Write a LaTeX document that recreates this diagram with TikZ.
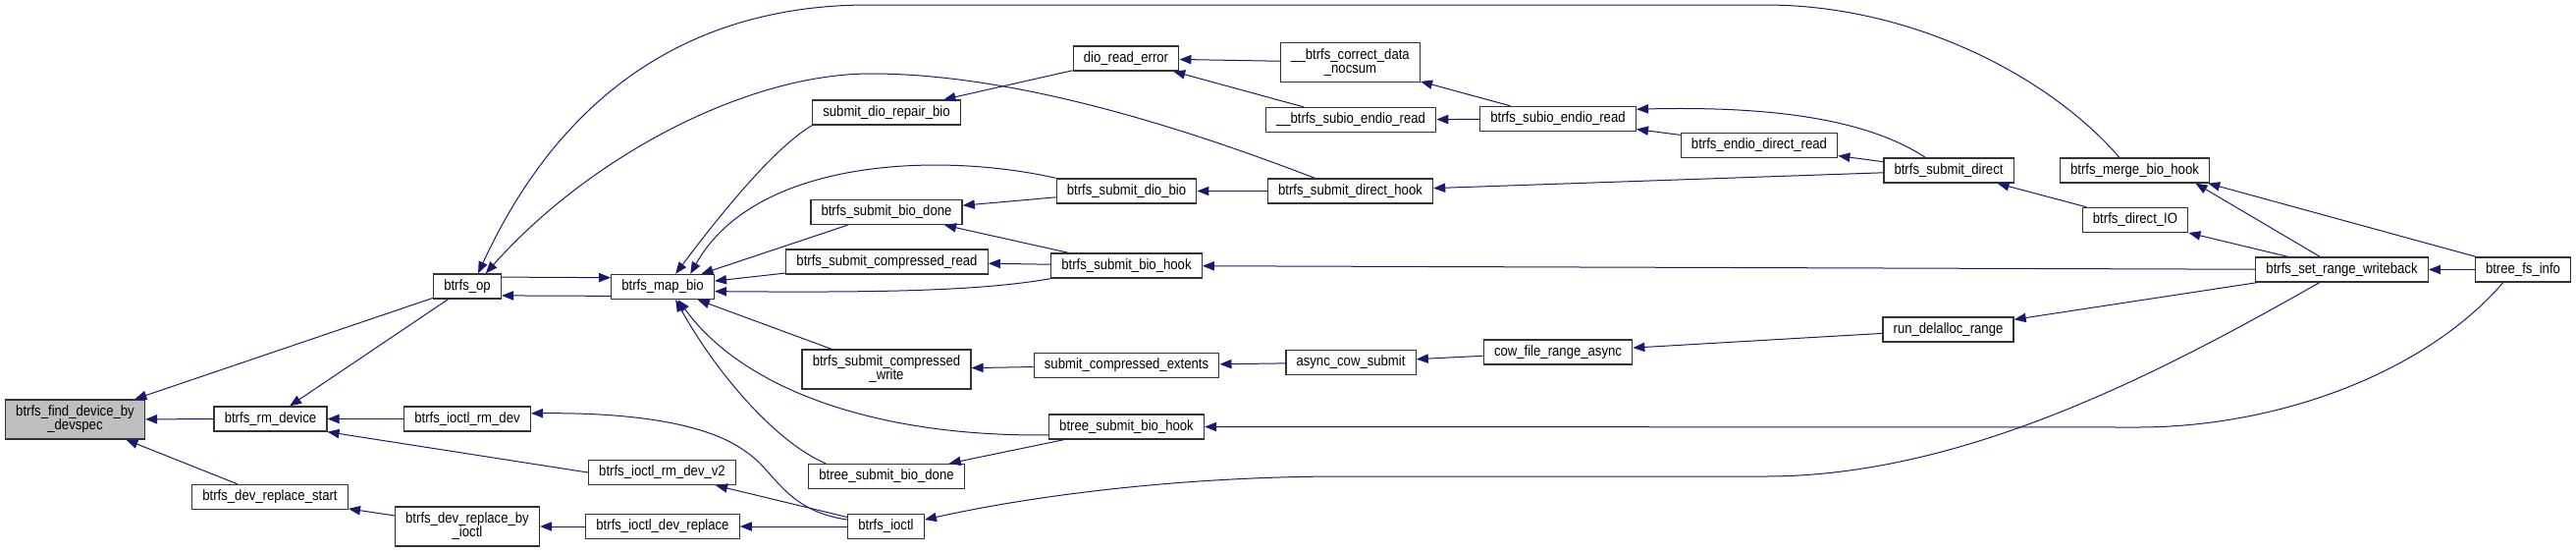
\documentclass[tikz,border=0pt]{standalone}
\usepackage{xcolor}
\usepackage{fontspec}
\newfontfamily\callfont{Liberation Sans}[FakeStretch=0.88]
\usepackage{tikz}
\usetikzlibrary{arrows.meta}
\definecolor{edgeblue}{RGB}{25,25,112}

\begin{document}
\begin{tikzpicture}[x=0.75pt, y=-0.75pt]
    \tikzstyle{func} = [draw=black!80, line width=1pt, fill=white, rectangle, inner xsep=8pt, inner ysep=1pt, minimum height=18.75pt, align=center, font=\callfont\fontsize{11.2}{10.5}\selectfont]
    \tikzstyle{focus} = [func, fill=black!25]
    \tikzstyle{call} = [draw=edgeblue, line width=0.75pt, -{Triangle[length=9pt, width=7pt]}]

    \useasboundingbox (0,0) rectangle (2624,562);

    \node[focus, minimum height=30pt] (find) at (76.5,427) {btrfs\_find\_device\_by\\\_devspec};
    \node[func] (op) at (476,291.5) {btrfs\_op};
    \node[func] (rmdevice) at (275.5,426.5) {btrfs\_rm\_device};
    \node[func] (replstart) at (275,506) {btrfs\_dev\_replace\_start};
    \node[func] (mapbio) at (675,292) {btrfs\_map\_bio};
    \node[func] (rmdev) at (476,426.5) {btrfs\_ioctl\_rm\_dev};
    \node[func] (rmdevv2) at (674.5,481) {btrfs\_ioctl\_rm\_dev\_v2};
    \node[func, minimum height=30pt] (replioctl) at (476,536) {btrfs\_dev\_replace\_by\\\_ioctl};
    \node[func] (ioctlrepl) at (675,536) {btrfs\_ioctl\_dev\_replace};
    \node[func] (repairbio) at (903,114.5) {submit\_dio\_repair\_bio};
    \node[func] (biodone) at (903,216) {btrfs\_submit\_bio\_done};
    \node[func] (compread) at (903.5,266.5) {btrfs\_submit\_compressed\_read};
    \node[func, minimum height=30pt] (compwrite) at (903,376) {btrfs\_submit\_compressed\\\_write};
    \node[func] (btreedone) at (903,485) {btree\_submit\_bio\_done};
    \node[func] (ioctl) at (902.5,536) {btrfs\_ioctl};
    \node[func] (dioerr) at (1147,59.5) {dio\_read\_error};
    \node[func] (diobio) at (1147.5,194.5) {btrfs\_submit\_dio\_bio};
    \node[func] (biohook) at (1147.5,270.5) {btrfs\_submit\_bio\_hook};
    \node[func] (compext) at (1147.5,372) {submit\_compressed\_extents};
    \node[func] (btreehook) at (1147.5,434.5) {btree\_submit\_bio\_hook};
    \node[func, minimum height=30pt] (nocsum) at (1375.5,63.5) {\_\_btrfs\_correct\_data\\\_nocsum};
    \node[func] (subioread) at (1376,122) {\_\_btrfs\_subio\_endio\_read};
    \node[func] (directhook) at (1375.5,194.5) {btrfs\_submit\_direct\_hook};
    \node[func] (asynccow) at (1376,369) {async\_cow\_submit};
    \node[func] (subioendio) at (1587,121) {btrfs\_subio\_endio\_read};
    \node[func] (cowasync) at (1587,358.5) {cow\_file\_range\_async};
    \node[func] (endiodirect) at (1792,148) {btrfs\_endio\_direct\_read};
    \node[func] (submitdirect) at (1985,173.5) {btrfs\_submit\_direct};
    \node[func] (delalloc) at (1984.5,335.5) {run\_delalloc\_range};
    \node[func] (mergehook) at (2174.5,173.5) {btrfs\_merge\_bio\_hook};
    \node[func] (directio) at (2175,224) {btrfs\_direct\_IO};
    \node[func] (setrange) at (2385.5,274.5) {btrfs\_set\_range\_writeback};
    \node[func] (fsinfo) at (2570,274.5) {btree\_fs\_info};

    \draw[call] (op) -- (find);
    \draw[call] (op) -- (rmdevice);
    \draw[call] (rmdevice) -- (find);
    \draw[call] (replstart) -- (find);
    \draw[call] (rmdev) -- (rmdevice);
    \draw[call] (rmdevv2.west) -- (rmdevice.south east);
    \draw[call] (replioctl) -- (replstart);
    \draw[call] (ioctlrepl) -- (replioctl);
    \draw[call] (op.15) -- (mapbio.170);
    \draw[call] (mapbio.-170) -- (op.-15);
    \draw[call] (mergehook.140) .. controls (2090,80) and (1950,5) .. (1798,5) -- (885,5) .. controls (680,5) and (560,120) .. (op.50);
    \draw[call] (directhook.160) .. controls (1180,120) and (1020,75) .. (887,75) .. controls (760,75) and (600,160) .. (op.35);
    \draw[call] (repairbio.south west) .. controls (790,150) and (740,210) .. (mapbio.45);
    \draw[call] (diobio.north west) .. controls (960,155) and (770,160) .. (mapbio.25);
    \draw[call] (biodone) -- (mapbio);
    \draw[call] (compread) -- (mapbio);
    \draw[call] (biohook.south west) .. controls (1000,296) and (900,298) .. (mapbio.-5);
    \draw[call] (compwrite) -- (mapbio);
    \draw[call] (btreehook.-174) .. controls (900,445) and (760,400) .. (mapbio.-40);
    \draw[call] (btreedone.168) .. controls (790,450) and (730,380) .. (mapbio.-45);
    \draw[call] (ioctl.170) .. controls (800,520) and (790,480) .. (760,460) .. controls (720,430) and (640,420) .. (rmdev.5);
    \draw[call] (ioctl) -- (rmdevv2);
    \draw[call] (ioctl) -- (ioctlrepl);
    \draw[call] (dioerr) -- (repairbio);
    \draw[call] (diobio) -- (biodone);
    \draw[call] (biohook) -- (biodone);
    \draw[call] (biohook) -- (compread);
    \draw[call] (compext) -- (compwrite);
    \draw[call] (btreehook) -- (btreedone);
    \draw[call] (setrange.-150) .. controls (2200,380) and (2000,485) .. (1798,485) -- (1369,485) .. controls (1200,485) and (1050,505) .. (ioctl.10);
    \draw[call] (nocsum) -- (dioerr);
    \draw[call] (subioread) -- (dioerr);
    \draw[call] (directhook) -- (diobio);
    \draw[call] (setrange) -- (biohook);
    \draw[call] (asynccow) -- (compext);
    \draw[call] (fsinfo.-147) .. controls (2470,380) and (2320,435) .. (2177,435) -- (btreehook.east);
    \draw[call] (subioendio) -- (nocsum);
    \draw[call] (subioendio) -- (subioread);
    \draw[call] (cowasync) -- (asynccow);
    \draw[call] (submitdirect.151) .. controls (1900,120) and (1800,108) .. (subioendio.7);
    \draw[call] (endiodirect) -- (subioendio);
    \draw[call] (submitdirect) -- (directhook);
    \draw[call] (submitdirect) -- (endiodirect);
    \draw[call] (delalloc) -- (cowasync);
    \draw[call] (directio) -- (submitdirect);
    \draw[call] (setrange) -- (delalloc);
    \draw[call] (setrange) -- (mergehook.-12);
    \draw[call] (fsinfo) -- (mergehook.-10);
    \draw[call] (setrange) -- (directio);
    \draw[call] (fsinfo) -- (setrange);
\end{tikzpicture}
\end{document}
